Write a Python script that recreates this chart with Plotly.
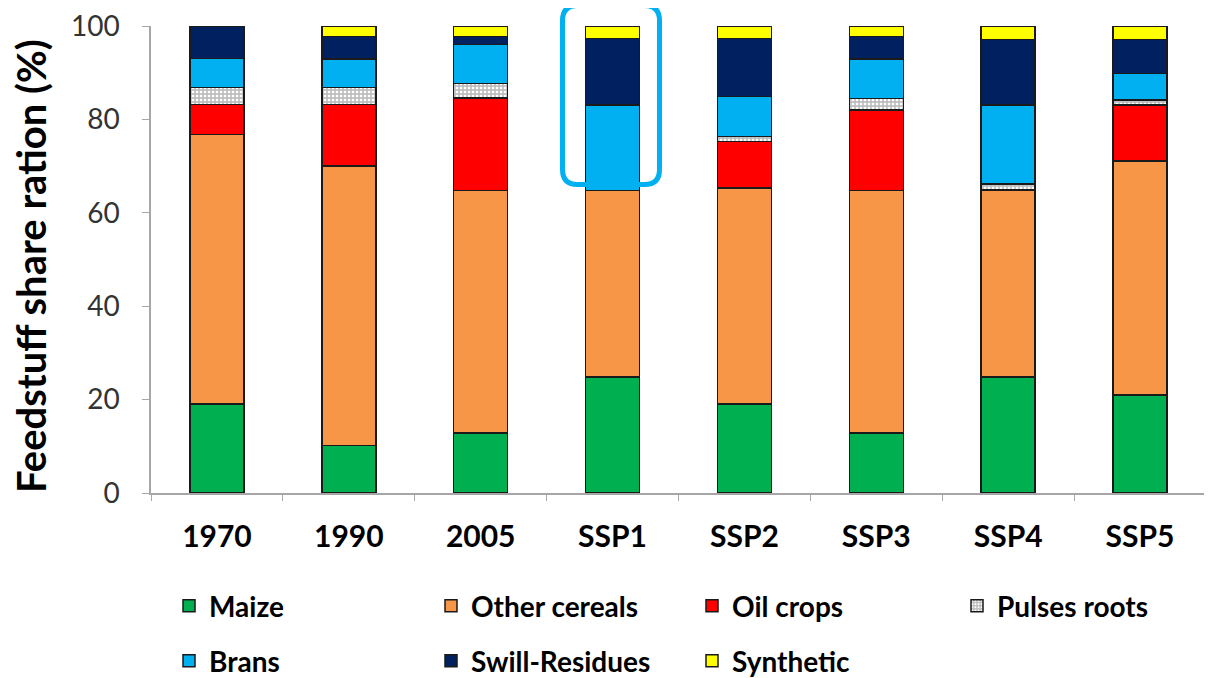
import plotly.graph_objects as go

categories = ["1970", "1990", "2005", "SSP1", "SSP2", "SSP3", "SSP4", "SSP5"]
maize = [19.1, 10.2, 12.9, 24.8, 19.1, 12.9, 24.8, 21.0]
other_cereals = [57.7, 59.8, 51.9, 40.0, 46.2, 51.9, 40.1, 50.1]
oil_crops = [6.4, 13.2, 19.8, 0.0, 10.0, 17.2, 0.0, 12.0]
pulses_roots = [3.6, 3.6, 3.1, 0.0, 1.0, 2.5, 1.3, 1.1]
brans = [6.2, 6.1, 8.3, 18.3, 8.6, 8.4, 16.9, 5.6]
swill_residues = [7.0, 4.9, 1.8, 14.2, 12.4, 4.9, 14.0, 7.3]
synthetic = [0.0, 2.2, 2.2, 2.7, 2.7, 2.2, 2.9, 2.9]
y_ticks = [0, 20, 40, 60, 80, 100]
y_title = "Feedstuff share ration (%)"

series_names = ["Maize", "Other cereals", "Oil crops", "Pulses roots",
                "Brans", "Swill-Residues", "Synthetic"]
series_values = [maize, other_cereals, oil_crops, pulses_roots,
                 brans, swill_residues, synthetic]
series_colors = ["#00B050", "#F79646", "#FF0000", "#C8C8C8",
                 "#00B0F0", "#002060", "#FFFF00"]

# page offset (html body margin) and figure geometry
OFF = 8
W, H = 1204, 670
ML, MR, MT, MB = 143, 6, 18, 185
PW, PH = W - ML - MR, H - MT - MB

# legend grid: (text start x on screen, row center y on screen)
legend_cols = [207, 469, 730, 995]
legend_rows = [606, 661]

fig = go.Figure()
legend_layout = {}
for i, (name, vals, color) in enumerate(zip(series_names, series_values, series_colors)):
    marker = dict(color=color, line=dict(color="#1a1a1a", width=1.5))
    if name == "Pulses roots":
        marker["pattern"] = dict(shape=".", fgcolor="#FFFFFF", bgcolor="#BEBEBE",
                                 size=4, solidity=0.35, fillmode="replace")
    leg_key = "legend" if i == 0 else f"legend{i + 1}"
    fig.add_trace(go.Bar(x=categories, y=vals, name=name, marker=marker, legend=leg_key))
    col = legend_cols[i % 4]
    row = legend_rows[i // 4]
    legend_layout[leg_key] = dict(
        x=(col - 38 - OFF) / W, y=1 - (row - OFF) / H,
        xref="container", yref="container", xanchor="left", yanchor="middle",
        orientation="h", bgcolor="rgba(0,0,0,0)",
        font=dict(family="Lato, sans-serif", size=28, color="#000000", weight="bold"),
    )

def px_x(p):
    return (p - OFF - ML) / PW

def px_y(p):
    return (H - MB - (p - OFF)) / PH

# highlight box around SSP1 top (rounded rectangle), screen pixel geometry
x0, x1, y0, y1, r = 562.5, 659.5, 5.5, 184.5, 15
path = (
    f"M {px_x(x0 + r)},{px_y(y0)} L {px_x(x1 - r)},{px_y(y0)} "
    f"Q {px_x(x1)},{px_y(y0)} {px_x(x1)},{px_y(y0 + r)} "
    f"L {px_x(x1)},{px_y(y1 - r)} Q {px_x(x1)},{px_y(y1)} {px_x(x1 - r)},{px_y(y1)} "
    f"L {px_x(x0 + r)},{px_y(y1)} Q {px_x(x0)},{px_y(y1)} {px_x(x0)},{px_y(y1 - r)} "
    f"L {px_x(x0)},{px_y(y0 + r)} Q {px_x(x0)},{px_y(y0)} {px_x(x0 + r)},{px_y(y0)} Z"
)
fig.add_shape(type="path", path=path, xref="paper", yref="paper",
              line=dict(color="#00B0F0", width=5), layer="above")
fig.add_shape(type="line", xref="paper", yref="paper",
              x0=px_x(586.5), x1=px_x(586.5), y0=px_y(0), y1=px_y(5),
              line=dict(color="#00B0F0", width=3))

# y-axis title as a rotated annotation for exact placement
fig.add_annotation(text=y_title, textangle=-90, showarrow=False,
                   xref="paper", yref="paper", x=px_x(31), y=px_y(266),
                   xanchor="center", yanchor="middle",
                   font=dict(family="Lato, sans-serif", size=40, color="#000000", weight="bold"))

fig.update_layout(
    width=W, height=H,
    margin=dict(l=ML, r=MR, t=MT, b=MB, autoexpand=False),
    paper_bgcolor="white", plot_bgcolor="white",
    barmode="stack", bargap=0.59,
    font=dict(family="Lato, sans-serif", color="#000000"),
    showlegend=True,
    xaxis=dict(
        showline=True, linecolor="#A6A6A6", linewidth=1.5,
        ticks="outside", tickson="boundaries", ticklen=6, tickcolor="#A6A6A6",
        tickfont=dict(family="Lato, sans-serif", size=30, color="#000000", weight="bold"),
        ticklabelstandoff=16, showgrid=False, automargin=False,
    ),
    yaxis=dict(
        range=[0, 100], tickvals=y_ticks,
        showline=True, linecolor="#A6A6A6", linewidth=1.5,
        ticks="outside", ticklen=7, tickcolor="#A6A6A6",
        tickfont=dict(family="Lato, sans-serif", size=28, color="#333333"),
        ticklabelstandoff=17, ticklabeloverflow="allow",
        showgrid=False, zeroline=False, automargin=False,
    ),
    **legend_layout,
)

fig.write_html("out.html")
